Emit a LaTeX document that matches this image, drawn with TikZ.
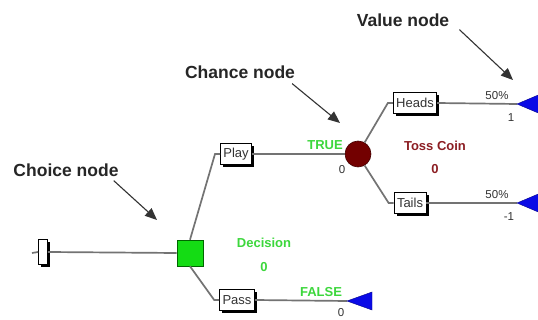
\documentclass[tikz,border=0pt]{standalone}
\usepackage{fontspec}
\setmainfont{Liberation Sans}
\usetikzlibrary{shadows,arrows.meta,calc}
\definecolor{sqgreen}{RGB}{20,220,20}
\definecolor{lblgreen}{RGB}{60,215,60}
\definecolor{chred}{RGB}{115,0,0}
\definecolor{tossred}{RGB}{140,30,35}
\definecolor{valblue}{RGB}{10,10,230}
\begin{document}
\begin{tikzpicture}[x=1pt,y=-1pt,
  conn/.style={draw=black!55, line width=1.7pt},
  lbl/.style={font=\fontsize{17.5}{20}\selectfont\bfseries, inner sep=0pt, text=black!85},
  pointer/.style={draw=black!80, line width=1.1pt, -{Triangle[length=12pt,width=10pt]}},
  branch/.style={draw, fill=white, line width=0.7pt, inner xsep=3pt, inner ysep=2pt, minimum height=21pt,
    font=\fontsize{13}{15}\selectfont, text=black!80,
    drop shadow={shadow xshift=2.5pt, shadow yshift=-2.5pt, fill=black, opacity=1}},
  glbl/.style={text=lblgreen, font=\fontsize{13}{15}\selectfont\bfseries, inner sep=0pt},
  tlbl/.style={text=tossred, font=\fontsize{13}{15}\selectfont\bfseries, inner sep=0pt},
  small/.style={font=\fontsize{11.5}{13}\selectfont, inner sep=0pt, text=black!80},
  valnode/.style={fill=valblue, draw=valblue!60!black, line width=0.4pt}
]
\useasboundingbox[fill=white] (0,0) rectangle (538,320);

% nodes
\coordinate (stub) at (32,253);
\node[branch, minimum width=9pt, minimum height=25pt, inner sep=0pt] (start) at (43,252) {};
\node[draw=green!40!black, fill=sqgreen, minimum size=26pt, inner sep=0pt, line width=0.6pt] (sq) at (190,253) {};
\node[branch] (play) at (236,154) {Play};
\node[branch] (pass) at (237,300) {Pass};
\node[circle, draw=chred!60!black, fill=chred, minimum size=26pt, inner sep=0pt, line width=0.6pt] (ch) at (358,154) {};
\node[branch] (heads) at (415,103) {Heads};
\node[branch] (tails) at (410,203) {Tails};
\coordinate (vh) at (517,104);
\coordinate (vt) at (517,203);
\coordinate (vp) at (347,301);

% connectors
\draw[conn] (stub) -- (start.west);
\draw[conn] (start.east) -- (sq.west);
\draw[conn] (sq.north) -- ($(play.west)+(-5,0)$) -- (play.west);
\draw[conn] (sq.south) -- ($(pass.west)+(-5,0)$) -- (pass.west);
\draw[conn] (play.east) -- (ch.west);
\draw[conn] (pass.east) -- (vp);
\draw[conn] (ch.60) -- ($(heads.west)+(-5,0)$) -- (heads.west);
\draw[conn] (ch.-60) -- ($(tails.west)+(-5,0)$) -- (tails.west);
\draw[conn] (heads.east) -- (vh);
\draw[conn] (tails.east) -- (vt);

% value nodes (triangles)
\begin{scope}
\clip (0,0) rectangle (538,320);
\filldraw[valnode] (vh) -- ++(26,-11) -- ++(0,22) -- cycle;
\filldraw[valnode] (vt) -- ++(26,-11) -- ++(0,22) -- cycle;
\end{scope}
\filldraw[valnode] (vp) -- ++(25,-9) -- ++(0,18) -- cycle;

% labels
\node[glbl] (true) at (325,145) {TRUE};
\node[small] (truev) at (342,170) {0};
\node[glbl] (dec) at (264,243) {Decision};
\node[glbl] (decv) at (264,267) {0};
\node[glbl] (false) at (321,292) {FALSE};
\node[small] (falsev) at (341,313) {0};
\node[tlbl] (toss) at (435,146) {Toss Coin};
\node[tlbl] (tossv) at (435,169) {0};
\node[small] (ph) at (497,96) {50\%};
\node[small] (hv) at (511,118) {1};
\node[small] (pt) at (497,195) {50\%};
\node[small] (tv) at (509,217) {-1};

% callouts
\node[lbl] (choice) at (66,170) {Choice node};
\node[lbl] (chance) at (240,72) {Chance node};
\node[lbl] (value) at (403,20) {Value node};
\coordinate (choicetip) at (157,220);
\coordinate (chancetip) at (340,123);
\coordinate (valuetip) at (513,80);
\draw[pointer] ($(choice.south east)+(-5,4)$) -- (choicetip);
\draw[pointer] ($(chance.south east)+(-3,5)$) -- (chancetip);
\draw[pointer] ($(value.south east)+(10,3)$) -- (valuetip);
\end{tikzpicture}
\end{document}
